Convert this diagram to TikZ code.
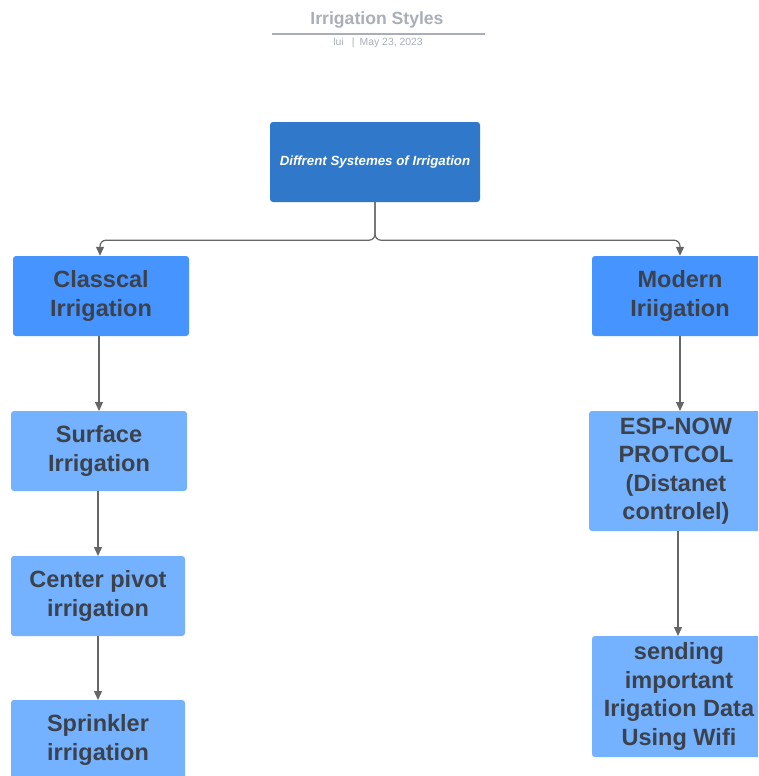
\documentclass[tikz,border=0pt]{standalone}
\usepackage{fontspec}
\setmainfont{Liberation Sans}
\usetikzlibrary{arrows.meta}
\definecolor{rootblue}{HTML}{3078CA}
\definecolor{midblue}{HTML}{4694FF}
\definecolor{lightblue}{HTML}{74B1FF}
\definecolor{txtdark}{HTML}{3B424C}
\definecolor{titlegray}{HTML}{A9AEB8}
\definecolor{conngray}{HTML}{666666}
\tikzset{
  box/.style={rectangle, rounded corners=3pt, draw=none, align=center, inner sep=0pt,
    text=txtdark, font=\fontsize{23.5}{28.5}\selectfont\bfseries},
  rootbox/.style={box, fill=rootblue, text=white, minimum width=210pt, minimum height=80pt,
    font=\fontsize{13.3}{15}\selectfont\bfseries\itshape},
  midbox/.style={box, fill=midblue, minimum width=176pt, minimum height=80pt},
  lowbox/.style={box, fill=lightblue, minimum width=174pt},
  conn/.style={draw=conngray, line width=1.2pt, -{Triangle[length=9pt,width=8pt]}, rounded corners=6pt}
}
\begin{document}
\begin{tikzpicture}[x=1pt,y=-1pt]
\useasboundingbox (0,0) rectangle (758,776);
\clip (0,0) rectangle (758,776);
\fill[white] (0,0) rectangle (758,776);
% title
\node[text=titlegray, font=\fontsize{17.6}{19}\selectfont\bfseries] (title) at (377,20) {Irrigation Styles};
\draw[titlegray, line width=1.2pt] (272,34) -- (485,34);
\node[text=titlegray, font=\fontsize{10.4}{11}\selectfont] (sub) at (378,43) {lui\enspace\ |\enspace May 23, 2023};
% nodes
\node[rootbox] (root) at (375,162) {Diffrent Systemes of Irrigation};
\node[midbox] (classcal) at (101,296) {Classcal\\Irrigation};
\node[midbox] (modern) at (680,296) {Modern\\Iriigation};
\node[lowbox, minimum width=176pt, minimum height=80pt] (surface) at (99,451) {Surface\\Irrigation};
\node[lowbox, minimum height=80pt] (center) at (98,596) {Center pivot\\irrigation};
\node[lowbox, minimum height=80pt] (sprinkler) at (98,740) {Sprinkler\\irrigation};
\node[lowbox, minimum height=120pt] (esp) at (676,471) {ESP-NOW\\PROTCOL\\(Distanet\\controlel)};
\node[lowbox, minimum height=121pt] (sending) at (679,696.5) {sending\\important\\Irigation Data\\Using Wifi};
% connectors
\draw[conn] (root.south) -- ++(0,38) -| (100,256) -- (classcal.north -| 100,0);
\draw[conn] (root.south) -- ++(0,38) -| (modern.north);
\draw[conn] (99,336) -- (99,411);
\draw[conn] (98,491) -- (98,556);
\draw[conn] (98,636) -- (98,700);
\draw[conn] (modern.south) -- (680,411);
\draw[conn] (678,531) -- (678,636);
\end{tikzpicture}
\end{document}
